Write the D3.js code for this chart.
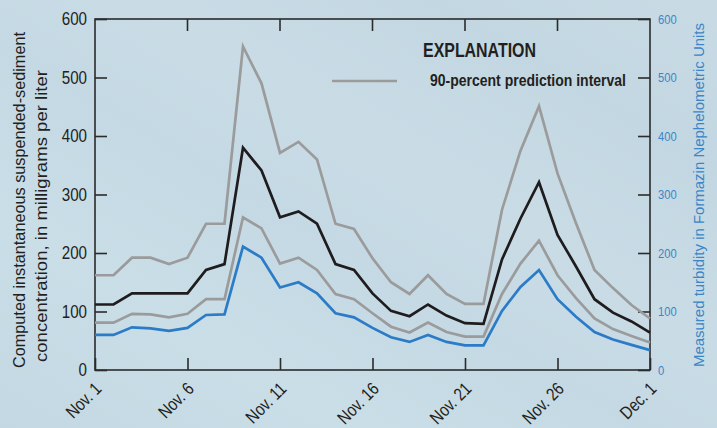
<!DOCTYPE html>
<html>
<head>
<meta charset="utf-8">
<script src="https://cdn.jsdelivr.net/npm/d3@7"></script>
<style>
  body { margin: 0; padding: 0; background: #c7dbe5; }
  svg { display: block; }
  text { font-family: "Liberation Sans", Arial, sans-serif; }
</style>
</head>
<body>
<div id="chart"></div>
<script>
(function () {
    // daily values, Nov. 1 through Dec. 1
    var days = d3.range(0, 31);
    var upperPI = [162, 162, 192, 192, 181, 192, 250, 250, 553, 490, 371, 390, 360, 250, 241, 191,
        150, 130, 162, 130, 113, 113, 274, 375, 451, 336, 251, 171, 140, 111, 88];
    var computedSSC = [112, 112, 131, 131, 131, 131, 171, 181, 380, 341, 261, 271, 250, 181, 171, 131,
        101, 92, 112, 93, 80, 79, 189, 259, 321, 231, 177, 121, 98, 83, 64];
    var lowerPI = [81, 81, 96, 95, 90, 96, 121, 121, 261, 242, 182, 192, 171, 130, 121, 97,
        74, 64, 81, 65, 57, 57, 130, 182, 221, 162, 123, 88, 70, 58, 47];
    var turbidity = [60, 60, 73, 71, 67, 72, 94, 95, 211, 192, 141, 150, 131, 97, 90, 72,
        56, 48, 60, 48, 42, 42, 101, 142, 171, 121, 91, 65, 52, 43, 34];

    var tickDays = [0, 5, 10, 15, 20, 25, 30];
    var tickLabels = ["Nov. 1", "Nov. 6", "Nov. 11", "Nov. 16", "Nov. 21", "Nov. 26", "Dec. 1"];
    var yTicks = [0, 100, 200, 300, 400, 500, 600];

    const width = 717, height = 428;
    const left = 95, right = 650, top = 19, bottom = 370;
    const tick_len = 12;
    const narrow = 0.82;   // squeeze Liberation Sans to look like a condensed face

    var svg = d3.select('#chart').append('svg')
        .attr('width', width)
        .attr('height', height);

    // background with faint diagonal bands
    var defs = svg.append('defs');
    var grad = defs.append('linearGradient')
        .attr('id', 'bg')
        .attr('x1', '0%').attr('y1', '100%')
        .attr('x2', '100%').attr('y2', '0%');
    [[0, '#c4d8e3'], [0.25, '#cadee8'], [0.45, '#c5d9e4'], [0.6, '#c9dce6'], [0.8, '#c3d7e2'], [1, '#c8dbe5']]
        .forEach(function (s) {
            grad.append('stop').attr('offset', s[0]).attr('stop-color', s[1]);
        });
    svg.append('rect')
        .attr('width', width)
        .attr('height', height)
        .attr('fill', 'url(#bg)');

    var x = d3.scaleLinear().domain([0, 30]).range([left, right]);
    var y = d3.scaleLinear().domain([0, 600]).range([bottom, top]);

    // frame
    svg.append('rect')
        .attr('x', left)
        .attr('y', top)
        .attr('width', right - left)
        .attr('height', bottom - top)
        .attr('fill', 'none')
        .attr('stroke', '#2b2b2b')
        .attr('stroke-width', 1.6);

    // left axis
    var yAxisL = d3.axisLeft(y).tickValues(yTicks).tickSizeInner(-tick_len).tickSizeOuter(0).tickPadding(8);
    var gL = svg.append('g')
        .attr('transform', `translate(${left},0)`)
        .call(yAxisL);
    gL.select('.domain').remove();
    gL.selectAll('line').attr('stroke', '#2b2b2b').attr('stroke-width', 1.6);
    gL.selectAll('text')
        .attr('x', 0)
        .attr('transform', `translate(-8,0) scale(${narrow},1)`)
        .attr('font-size', 18.5)
        .attr('fill', '#231f20');

    // right axis (turbidity, same scale)
    var yAxisR = d3.axisRight(y).tickValues(yTicks).tickSizeInner(-tick_len).tickSizeOuter(0).tickPadding(8);
    var gR = svg.append('g')
        .attr('transform', `translate(${right},0)`)
        .call(yAxisR);
    gR.select('.domain').remove();
    gR.selectAll('line').attr('stroke', '#2b2b2b').attr('stroke-width', 1.6);
    gR.selectAll('text')
        .attr('x', 0)
        .attr('transform', `translate(8,0) scale(0.86,1)`)
        .attr('font-size', 13)
        .attr('fill', '#3a86c6');

    // bottom axis
    var xAxisB = d3.axisBottom(x).tickValues(tickDays).tickSizeInner(-tick_len).tickSizeOuter(0)
        .tickFormat(function (d, i) { return tickLabels[i]; });
    var gB = svg.append('g')
        .attr('transform', `translate(0,${bottom})`)
        .call(xAxisB);
    gB.select('.domain').remove();
    gB.selectAll('line').attr('stroke', '#2b2b2b').attr('stroke-width', 1.6);
    gB.selectAll('text')
        .attr('font-size', 18)
        .attr('fill', '#231f20')
        .attr('text-anchor', 'end')
        .attr('y', 0)
        .attr('dy', 0)
        .attr('transform', `translate(7,20) rotate(-45) scale(${narrow},1)`);

    // top ticks
    svg.append('g').selectAll('line').data(tickDays.slice(1, -1))
        .enter().append('line')
        .attr('x1', function (d) { return x(d); })
        .attr('x2', function (d) { return x(d); })
        .attr('y1', top)
        .attr('y2', top + tick_len)
        .attr('stroke', '#2b2b2b')
        .attr('stroke-width', 1.6);

    // lines
    var line = function (vals) {
        return d3.line()
            .x(function (d) { return x(d); })
            .y(function (d) { return y(vals[d]); })(days);
    };
    var series = [
        {vals: upperPI, color: '#9b9b9b'},
        {vals: lowerPI, color: '#9b9b9b'},
        {vals: turbidity, color: '#2b7bc6'},
        {vals: computedSSC, color: '#1f1c1d'}
    ];
    svg.append('g').selectAll('path').data(series)
        .enter().append('path')
        .attr('d', function (s) { return line(s.vals); })
        .attr('fill', 'none')
        .attr('stroke', function (s) { return s.color; })
        .attr('stroke-width', 2.7)
        .attr('stroke-linejoin', 'miter');

    // legend
    svg.append('text')
        .attr('x', 423)
        .attr('y', 57)
        .attr('font-size', 19.5)
        .attr('font-weight', 'bold')
        .attr('fill', '#231f20')
        .attr('textLength', 113)
        .attr('lengthAdjust', 'spacingAndGlyphs')
        .text('EXPLANATION');
    svg.append('line')
        .attr('x1', 332).attr('x2', 397)
        .attr('y1', 81).attr('y2', 81)
        .attr('stroke', '#9b9b9b')
        .attr('stroke-width', 2.7);
    svg.append('text')
        .attr('x', 430)
        .attr('y', 86)
        .attr('font-size', 16.5)
        .attr('font-weight', 'bold')
        .attr('fill', '#231f20')
        .attr('textLength', 196)
        .attr('lengthAdjust', 'spacingAndGlyphs')
        .text('90-percent prediction interval');

    // axis titles
    svg.append('text')
        .attr('transform', 'translate(25,200) rotate(-90)')
        .attr('text-anchor', 'middle')
        .attr('font-size', 17)
        .attr('fill', '#231f20')
        .attr('textLength', 336)
        .attr('lengthAdjust', 'spacingAndGlyphs')
        .text('Computed instantaneous suspended-sediment');
    svg.append('text')
        .attr('transform', 'translate(47,216) rotate(-90)')
        .attr('text-anchor', 'middle')
        .attr('font-size', 17)
        .attr('fill', '#231f20')
        .attr('textLength', 292)
        .attr('lengthAdjust', 'spacingAndGlyphs')
        .text('concentration, in milligrams per liter');

    svg.append('text')
        .attr('transform', 'translate(704,195) rotate(-90)')
        .attr('text-anchor', 'middle')
        .attr('font-size', 15.5)
        .attr('fill', '#3a86c6')
        .attr('textLength', 344)
        .attr('lengthAdjust', 'spacingAndGlyphs')
        .text('Measured turbidity in Formazin Nephelometric Units');
})();
</script>
</body>
</html>
